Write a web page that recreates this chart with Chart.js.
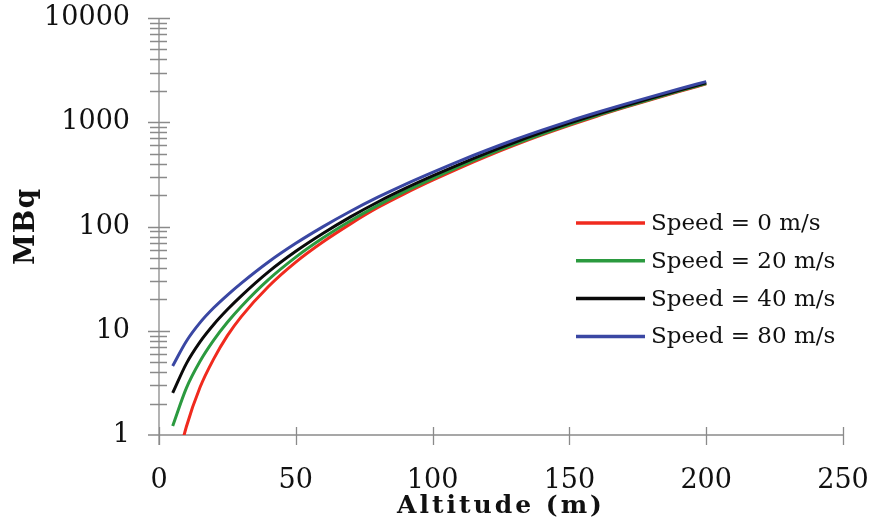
<!DOCTYPE html>
<html>
<head>
<meta charset="utf-8">
<script src="https://cdn.jsdelivr.net/npm/chart.js@4.4.1/dist/chart.umd.min.js"></script>
<style>
    html, body { margin: 0; padding: 0; background: #fff; }
    #wrap { position: relative; width: 870px; height: 523px; }
</style>
</head>
<body>
<div id="wrap"><canvas id="chart" width="870" height="523"></canvas></div>
<script>
// Altitud (m) y actividad (MBq)
const altitudes = [5, 10, 15, 20, 25, 30, 40, 50, 60, 70, 80, 90, 100, 110, 120, 130, 140, 150, 160, 170, 180, 190, 200];
const speed0 = [0.357, 1.2, 2.87, 5.37, 8.97, 13.6, 26.6, 45.6, 71.4, 106, 152, 208, 278, 366, 474, 604, 757, 935, 1143, 1380, 1652, 1968, 2333];
const speed20 = [1.22, 2.82, 5.1, 8.13, 12.05, 17.0, 30.9, 50.8, 77.8, 113.5, 159.6, 217.3, 288.4, 377.6, 486.4, 616.6, 770.9, 950.6, 1159, 1396, 1671, 1991, 2355];
const speed40 = [2.53, 4.84, 7.82, 11.48, 15.96, 21.5, 36.7, 57.8, 86.1, 123.6, 171.8, 231.7, 305.5, 397.2, 509.3, 642.7, 799.8, 981.7, 1191, 1432, 1710, 2028, 2393];
const speed80 = [4.6, 7.94, 11.97, 16.6, 22.0, 28.5, 45.7, 69.0, 99.8, 140, 191, 254, 331, 427, 542, 679, 839, 1026, 1239, 1483, 1762, 2084, 2455];

const seriesNames = ["Speed = 0 m/s", "Speed = 20 m/s", "Speed = 40 m/s", "Speed = 80 m/s"];
const seriesColors = ["#f02a1e", "#2b9a3f", "#0a0a0a", "#3a47a3"];
const xTickValues = [0, 50, 100, 150, 200, 250];
const yTickValues = [1, 10, 100, 1000, 10000];

const axisColor = "#8a8a8a";
const serif = '"DejaVu Serif", "Liberation Serif", serif';

const toPoints = (values) => altitudes.map((a, i) => ({ x: a, y: values[i] }));

// Ejes con marcas que cruzan la línea, como en el original
const axesPlugin = {
    id: "axesPlugin",
    beforeDatasetsDraw(chart) {
        const ctx = chart.ctx;
        const xs = chart.scales.x;
        const ys = chart.scales.y;
        const x0 = xs.getPixelForValue(0);
        const y0 = ys.getPixelForValue(1);
        ctx.save();
        ctx.strokeStyle = axisColor;
        ctx.lineWidth = 1.3;
        ctx.beginPath();
        ctx.moveTo(x0, ys.getPixelForValue(10000));
        ctx.lineTo(x0, y0 + 10);
        ctx.moveTo(x0 - 11, y0);
        ctx.lineTo(xs.getPixelForValue(250), y0);
        // marcas menores y mayores del eje logarítmico
        [1, 10, 100, 1000].forEach((dec) => {
            for (let m = 2; m <= 9; m++) {
                const py = Math.round(ys.getPixelForValue(m * dec)) + 0.5;
                ctx.moveTo(x0 - 9, py);
                ctx.lineTo(x0 + 8, py);
            }
        });
        yTickValues.slice(1).forEach((v) => {
            const py = Math.round(ys.getPixelForValue(v)) + 0.5;
            ctx.moveTo(x0 - 11, py);
            ctx.lineTo(x0 + 11, py);
        });
        xTickValues.forEach((v) => {
            const px = Math.round(xs.getPixelForValue(v)) + 0.5;
            ctx.moveTo(px, y0 - 8);
            ctx.lineTo(px, y0 + 10);
        });
        ctx.stroke();
        ctx.restore();
    },
    afterDraw(chart) {
        const ctx = chart.ctx;
        const area = chart.chartArea;
        ctx.save();
        ctx.fillStyle = "#111";
        // títulos de los ejes
        ctx.font = "bold 25px " + serif;
        ctx.letterSpacing = "3px";
        ctx.textAlign = "center";
        ctx.textBaseline = "middle";
        ctx.fillText("Altitude (m)", (area.left + area.right) / 2, 506);
        ctx.translate(27, (area.top + area.bottom) / 2);
        ctx.rotate(-Math.PI / 2);
        ctx.font = "bold 28px " + serif;
        ctx.letterSpacing = "1px";
        ctx.fillText("MBq", 0, 0);
        ctx.restore();

        // leyenda dentro del área del gráfico
        ctx.save();
        ctx.font = "23px " + serif;
        ctx.textAlign = "left";
        ctx.textBaseline = "middle";
        chart.data.datasets.forEach((ds, i) => {
            const ly = 223 + i * 37.8;
            ctx.strokeStyle = ds.borderColor;
            ctx.lineWidth = 3.5;
            ctx.beginPath();
            ctx.moveTo(576, ly);
            ctx.lineTo(645, ly);
            ctx.stroke();
            ctx.fillStyle = "#111";
            ctx.fillText(ds.label, 651, ly + 1);
        });
        ctx.restore();
    },
};

new Chart(document.getElementById("chart"), {
    type: "line",
    data: {
        datasets: [speed0, speed20, speed40, speed80].map((values, i) => ({
            label: seriesNames[i],
            data: toPoints(values),
            borderColor: seriesColors[i],
            borderWidth: 3,
            pointRadius: 0,
            cubicInterpolationMode: "monotone",
            fill: false,
            order: 3 - i,
        })),
    },
    options: {
        responsive: false,
        animation: false,
        devicePixelRatio: 1,
        layout: { padding: { top: 18, right: 27, left: 0, bottom: 0 } },
        plugins: {
            legend: { display: false },
            tooltip: { enabled: false },
        },
        scales: {
            x: {
                type: "linear",
                min: 0,
                max: 250,
                afterBuildTicks: (scale) => {
                    scale.ticks = xTickValues.map((v) => ({ value: v }));
                },
                afterFit: (scale) => {
                    scale.height = 88;
                    scale.paddingLeft = 0;
                    scale.paddingRight = 0;
                },
                ticks: {
                    font: { family: serif, size: 27 },
                    color: "#111",
                    padding: 30,
                    maxRotation: 0,
                    autoSkip: false,
                },
                grid: { display: false, drawTicks: false },
                border: { display: false },
            },
            y: {
                type: "logarithmic",
                min: 1,
                max: 10000,
                afterBuildTicks: (scale) => {
                    scale.ticks = yTickValues.map((v) => ({ value: v, major: true }));
                },
                afterFit: (scale) => {
                    scale.width = 159;
                    scale.paddingTop = 0;
                    scale.paddingBottom = 0;
                },
                ticks: {
                    font: { family: serif, size: 27 },
                    color: "#111",
                    padding: 29,
                    autoSkip: false,
                    callback: (v) => String(v),
                },
                grid: { display: false, drawTicks: false },
                border: { display: false },
            },
        },
    },
    plugins: [axesPlugin],
});
</script>
</body>
</html>
